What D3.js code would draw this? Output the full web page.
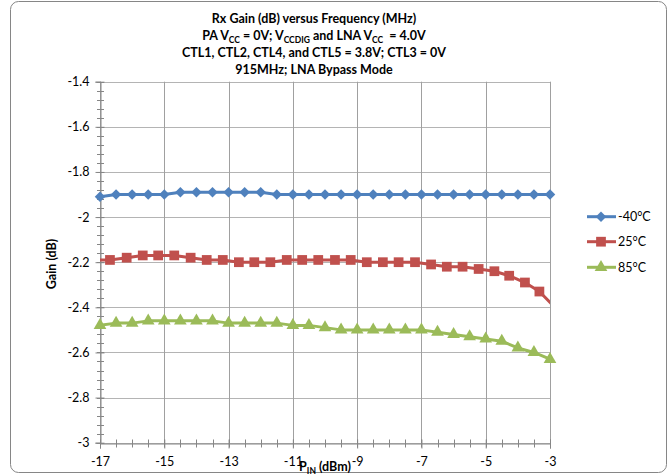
<!DOCTYPE html>
<html><head><meta charset="utf-8">
<script src="https://cdn.jsdelivr.net/npm/d3@7"></script>
<style>
html,body{margin:0;padding:0;background:#fff;}
svg{display:block;font-family:Lato,"Open Sans",sans-serif;}
</style></head>
<body><svg id="c" width="668" height="476"></svg>
<script>
// ---- data ----
const xTickValues = [-17, -15, -13, -11, -9, -7, -5, -3];
const yTickValues = [-3, -2.8, -2.6, -2.4, -2.2, -2, -1.8, -1.6, -1.4];
const seriesNames = ["-40°C", "25°C", "85°C"];
const seriesColors = ["#4F81BD", "#C0504D", "#9BBB59"];

const pinBlue = [-17,-16.5,-16,-15.5,-15,-14.5,-14,-13.5,-13,-12.5,-12,-11.5,-11,-10.5,-10,-9.5,-9,-8.5,-8,-7.5,-7,-6.5,-6,-5.5,-5,-4.5,-4,-3.5,-3];
const gainBlue = [-1.91,-1.90,-1.90,-1.90,-1.90,-1.89,-1.89,-1.89,-1.89,-1.89,-1.89,-1.90,-1.90,-1.90,-1.90,-1.90,-1.90,-1.90,-1.90,-1.90,-1.90,-1.90,-1.90,-1.90,-1.90,-1.90,-1.90,-1.90,-1.90];

const pinRed = [-17.2,-16.69,-16.17,-15.67,-15.19,-14.69,-14.18,-13.68,-13.18,-12.68,-12.2,-11.7,-11.19,-10.71,-10.21,-9.69,-9.2,-8.7,-8.2,-7.71,-7.2,-6.7,-6.21,-5.72,-5.22,-4.73,-4.27,-3.78,-3.33,-2.85];
const gainRed = [-2.19,-2.19,-2.18,-2.17,-2.17,-2.17,-2.18,-2.19,-2.19,-2.20,-2.20,-2.20,-2.19,-2.19,-2.19,-2.19,-2.19,-2.20,-2.20,-2.20,-2.20,-2.21,-2.22,-2.22,-2.23,-2.24,-2.26,-2.29,-2.33,-2.40];

const pinGreen = pinBlue;
const gainGreen = [-2.48,-2.47,-2.47,-2.46,-2.46,-2.46,-2.46,-2.46,-2.47,-2.47,-2.47,-2.47,-2.48,-2.48,-2.49,-2.50,-2.50,-2.50,-2.50,-2.50,-2.50,-2.51,-2.52,-2.53,-2.54,-2.55,-2.58,-2.60,-2.63];

const series = [
  {name: seriesNames[0], color: seriesColors[0], shape: d3.symbolDiamond2, size: 70, pts: pinBlue.map((p,i)=>({x:p,y:gainBlue[i]}))},
  {name: seriesNames[1], color: seriesColors[1], shape: d3.symbolSquare, size: 95, pts: pinRed.map((p,i)=>({x:p,y:gainRed[i]}))},
  {name: seriesNames[2], color: seriesColors[2], shape: d3.symbolTriangle, size: 70, pts: pinGreen.map((p,i)=>({x:p,y:gainGreen[i]}))}
];

// ---- layout ----
const svg = d3.select("#c");
const L = 100, R = 550, T = 81.7, B = 442.7;
const x = d3.scaleLinear().domain([-17, -3]).range([L, R]);
const y = d3.scaleLinear().domain([-3, -1.4]).range([B, T]);
const fmt = d => String(d);

svg.append("rect").attr("x",10.5).attr("y",1.5).attr("width",656).attr("height",471)
  .attr("rx",8).attr("fill","#fff").attr("stroke","#868686").attr("stroke-width",1);

// gridlines
svg.append("g").selectAll("line").data(yTickValues).join("line")
  .attr("x1",L).attr("x2",R).attr("y1",d=>Math.round(y(d))+0.5).attr("y2",d=>Math.round(y(d))+0.5)
  .attr("stroke","#b4b4b4").attr("stroke-width",1);
svg.append("g").selectAll("line").data(xTickValues).join("line")
  .attr("y1",T).attr("y2",B).attr("x1",d=>Math.round(x(d))+0.5).attr("x2",d=>Math.round(x(d))+0.5)
  .attr("stroke","#a0a0a0").attr("stroke-width",1);

// axes
const yMinor = d3.range(-3, -1.4 + 1e-9, 0.04);
const xMinor = d3.range(-17, -3 + 1e-9, 0.5);
const axisColor = "#868686";
const yAxis = svg.append("g").attr("transform",`translate(${L+0.5},0)`)
  .call(d3.axisLeft(y).tickValues(yTickValues).tickFormat(fmt).tickSize(5).tickPadding(6));
const xAxis = svg.append("g").attr("transform",`translate(0,${Math.round(B)+0.5})`)
  .call(d3.axisBottom(x).tickValues(xTickValues).tickFormat(fmt).tickSize(5).tickPadding(9));
[yAxis, xAxis].forEach(a=>{
  a.select(".domain").attr("stroke",axisColor);
  a.selectAll(".tick line").attr("stroke",axisColor);
  a.selectAll(".tick text").attr("fill","#000").attr("font-size","12.5px").attr("font-family","Lato, sans-serif");
});
xAxis.selectAll(".tick line").attr("y1",-4);
yAxis.selectAll(".tick line").attr("x1",4);
// minor crossing ticks
svg.append("g").selectAll("line").data(yMinor).join("line")
  .attr("x1",L-3).attr("x2",L+4).attr("y1",d=>Math.round(y(d))+0.5).attr("y2",d=>Math.round(y(d))+0.5)
  .attr("stroke",axisColor);
svg.append("g").selectAll("line").data(xMinor).join("line")
  .attr("y1",Math.round(B)-3.5).attr("y2",Math.round(B)+4.5).attr("x1",d=>Math.round(x(d))+0.5).attr("x2",d=>Math.round(x(d))+0.5)
  .attr("stroke",axisColor);

// clip
svg.append("clipPath").attr("id","pc").append("rect").attr("x",L).attr("y",T-10).attr("width",R-L).attr("height",B-T+20);

// series
const line = d3.line().x(d=>x(d.x)).y(d=>y(d.y));
series.forEach(s=>{
  svg.append("path").datum(s.pts).attr("d",line).attr("fill","none")
    .attr("stroke",s.color).attr("stroke-width",3).attr("stroke-linejoin","round")
    .attr("clip-path","url(#pc)");
  svg.append("g").selectAll("path").data(s.pts.filter(d=>d.x>=-17.01 && d.x<=-2.99)).join("path")
    .attr("transform",d=>`translate(${x(d.x)},${y(d.y)})`)
    .attr("d",d3.symbol().type(s.shape).size(s.size)).attr("fill",s.color);
});

// legend
const legY = [216.7, 241.7, 267.3];
series.forEach((s,i)=>{
  const g = svg.append("g").attr("transform",`translate(0,${legY[i]})`);
  g.append("line").attr("x1",587).attr("x2",616).attr("stroke",s.color).attr("stroke-width",3);
  g.append("path").attr("transform","translate(601,0)").attr("d",d3.symbol().type(s.shape).size(s.size)).attr("fill",s.color);
  g.append("text").attr("x",618).attr("y",0).attr("dy","0.35em").attr("font-size","12.5px").text(s.name);
});

// title
const tl = [
  [["Rx Gain (dB) versus Frequency (MHz)",0]],
  [["PA V",0],["CC",1],[" = 0V; V",0],["CCDIG",1],[" and LNA V",0],["CC",1],["  = 4.0V",0]],
  [["CTL1, CTL2, CTL4, and CTL5 = 3.8V; CTL3 = 0V",0]],
  [["915MHz; LNA Bypass Mode",0]]
];
const lineY = [22.5, 39.8, 57, 74.3];
tl.forEach((parts,i)=>{
  const t = svg.append("text").attr("x",314).attr("y",lineY[i]).attr("text-anchor","middle")
    .attr("font-weight","bold").attr("font-size","12.5px").attr("xml:space","preserve");
  parts.forEach(([txt,sub])=>{
    const sp = t.append("tspan").text(txt);
    if(sub) sp.attr("font-size","8.5px").attr("dy","3");
    else if (t.selectAll("tspan").size()>1) sp.attr("dy","-3");
  });
});

// axis titles
svg.append("text").attr("transform","translate(56,264) rotate(-90)").attr("text-anchor","middle")
  .attr("font-weight","bold").attr("font-size","12.5px").text("Gain (dB)");
const xt = svg.append("text").attr("x",325).attr("y",471).attr("text-anchor","middle")
  .attr("font-weight","bold").attr("font-size","12.5px");
xt.append("tspan").text("P");
xt.append("tspan").attr("font-size","8.5px").attr("dy","3").text("IN");
xt.append("tspan").attr("dy","-3").text(" (dBm)");
</script></body></html>
